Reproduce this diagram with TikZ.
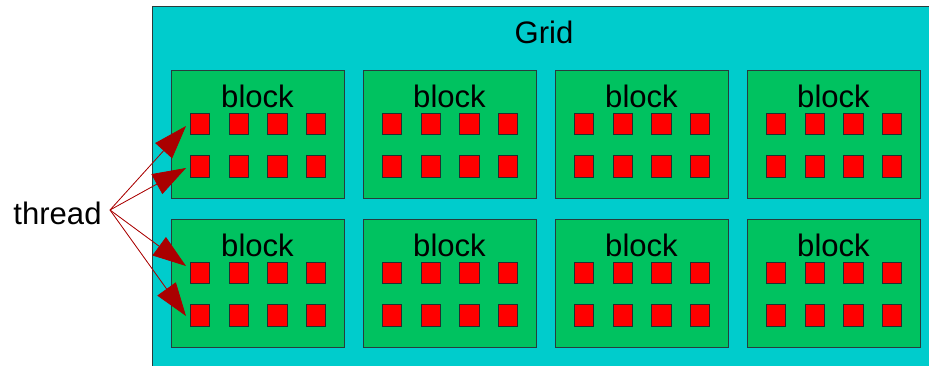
\documentclass[tikz,border=0pt]{standalone}
\usepackage{fontspec}
\setmainfont{Liberation Sans}
\usetikzlibrary{arrows.meta}
\definecolor{gridc}{RGB}{0,204,204}
\definecolor{blockc}{RGB}{0,194,96}
\definecolor{thrc}{RGB}{255,0,0}
\definecolor{arrc}{RGB}{170,0,0}
\definecolor{edgec}{RGB}{40,60,60}
\begin{document}
\begin{tikzpicture}[x=0.75pt,y=-0.75pt,
  gridbox/.style={draw=edgec,fill=gridc,line width=0.8pt,anchor=north west,inner sep=0pt,
    minimum width=600pt,minimum height=300pt},
  blockbox/.style={draw=edgec,fill=blockc,line width=0.75pt,anchor=north west,inner sep=0pt,
    minimum width=129.75pt,minimum height=96pt},
  thrbox/.style={draw=edgec!80!black,fill=thrc,line width=0.6pt,anchor=north west,inner sep=0pt,
    minimum width=14.6pt,minimum height=16.1pt},
  lbl/.style={font=\fontsize{23.3pt}{27pt}\selectfont,anchor=base,inner sep=0pt,text=black},
  arrowst/.style={draw=arrc,line width=0.6pt,-{Triangle[length=25pt,width=17pt]},fill=arrc}
]
\useasboundingbox (0,0) rectangle (929,365);
\clip (0,0) rectangle (929,365);
\fill[white] (0,0) rectangle (929,365);
\node[gridbox] (grid) at (152,6) {};
\node[lbl] (gridlbl) at (544,43.3) {Grid};
\foreach \r/\by in {0/70,1/219}{
  \foreach \c in {0,1,2,3}{
    \pgfmathsetmacro{\bx}{171+192*\c}
    \node[blockbox] (b-\r-\c) at (\bx,\by) {};
    \node[lbl] (bl-\r-\c) at (\bx+86.5,\by+37.7) {block};
    \foreach \tr in {0,1}{
      \foreach \tc in {0,1,2,3}{
        \node[thrbox] (t-\r-\c-\tr-\tc) at (\bx+19+38.6*\tc,\by+42.7+42.6*\tr) {};
      }
    }
  }
}
\node[lbl] (thread) at (57.5,224) {thread};
\coordinate (src) at (110,210);
\coordinate (tipA) at (186,126);
\coordinate (tipB) at (186,168);
\coordinate (tipC) at (186,266);
\coordinate (tipD) at (186,316);
\foreach \tp in {tipA,tipB,tipC,tipD}{
  \draw[arrowst] (src) -- (\tp);
}
\end{tikzpicture}
\end{document}
